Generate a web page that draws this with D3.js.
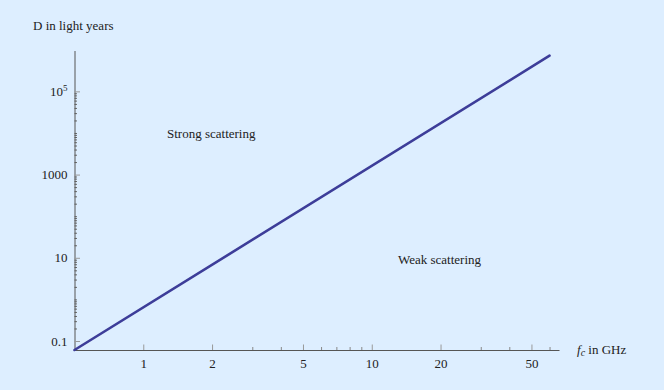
<!DOCTYPE html>
<html>
<head>
<meta charset="utf-8">
<script src="https://cdn.jsdelivr.net/npm/d3@7"></script>
<style>
  html, body { margin: 0; padding: 0; background: #ddeeff; }
  svg { display: block; }
  text { font-family: "Liberation Serif", "Times New Roman", serif; font-size: 13px; fill: #222; }
</style>
</head>
<body>
<svg width="664" height="390"></svg>
<script>
// line (log-log straight line)
const freqGHz = [0.5, 60];
const distLy = [0.0608, 7.2e5];

// tick values
const xMajor = [1, 2, 5, 10, 20, 50];
const xMinor = [3, 4, 6, 7, 8, 9, 30, 40, 60];
const yMajor = [0.1, 10, 1000, 1e5];

const svg = d3.select('svg');

// x: 0.5 .. 66 GHz, y: 0.0608 .. 9.6e5 ly
const x = d3.scaleLog().domain([0.5, 66]).range([74.5, 559]);
const y = d3.scaleLog().domain([0.0608, 9.6e5]).range([350, 50.5]);

// minor ticks on y: every k*10^e between labelled ticks
let yMinor = [];
for (let e = -1; e < 5; e++) {
  for (let k = 1; k <= 9; k++) {
    const v = k * Math.pow(10, e);
    if (v > 0.1 && v < 1e5 && !yMajor.includes(+v.toPrecision(6))) yMinor.push(v);
  }
}

// y axis
const gyMinor = svg.append('g')
  .attr('transform', `translate(${x.range()[0]},0)`)
  .call(d3.axisLeft(y).tickValues(yMinor).tickSize(-2.5).tickFormat(''));
gyMinor.select('.domain').remove();
gyMinor.selectAll('line').attr('stroke', '#666');

const yFmt = (d) => (d === 0.1 ? '0.1' : d === 1e5 ? '10^5' : d3.format('d')(d));
const gy = svg.append('g')
  .attr('transform', `translate(${x.range()[0]},0)`)
  .call(d3.axisLeft(y).tickValues(yMajor).tickSize(-5.5).tickSizeOuter(0).tickPadding(7).tickFormat(yFmt));
gy.select('.domain').attr('stroke', '#555');
gy.selectAll('.tick line').attr('stroke', '#999');
gy.selectAll('.tick text')
  .attr('font-family', null).attr('font-size', null)
  .each(function (d) {
    const t = d3.select(this);
    const s = t.text();
    if (s.includes('^')) {
      const [b, p] = s.split('^');
      t.text(b);
      t.append('tspan').attr('dy', '-5').attr('font-size', '9px').text(p);
    }
  });

// x axis
const gxMinor = svg.append('g')
  .attr('transform', `translate(0,${y.range()[0]})`)
  .call(d3.axisBottom(x).tickValues(xMinor).tickSize(-3).tickFormat(''));
gxMinor.select('.domain').remove();
gxMinor.selectAll('line').attr('stroke', '#888');

const gx = svg.append('g')
  .attr('transform', `translate(0,${y.range()[0]})`)
  .call(d3.axisBottom(x).tickValues(xMajor).tickSize(-5.5).tickSizeOuter(0).tickPadding(9).tickFormat(d3.format('d')));
gx.select('.domain').attr('stroke', '#555');
gx.selectAll('.tick line').attr('stroke', '#999');
gx.selectAll('.tick text').attr('font-family', null).attr('font-size', null);

// the line
const line = d3.line().x((d, i) => x(freqGHz[i])).y((d) => y(d));
svg.append('path')
  .datum(distLy)
  .attr('d', line)
  .attr('fill', 'none')
  .attr('stroke', '#3d3d99')
  .attr('stroke-width', 2.6)
  .attr('stroke-linecap', 'round');

// labels
svg.append('text').attr('x', 33).attr('y', 30).text('D in light years');

const fl = svg.append('text').attr('x', 577).attr('y', 354);
fl.append('tspan').attr('font-style', 'italic').text('f');
fl.append('tspan').attr('font-style', 'italic').attr('font-size', '10px').attr('dy', 2).text('c');
fl.append('tspan').attr('dy', -2).text('\u00a0in GHz');

svg.append('text').attr('x', 167).attr('y', 138).text('Strong scattering');
svg.append('text').attr('x', 398).attr('y', 263.5).text('Weak scattering');
</script>
</body>
</html>
